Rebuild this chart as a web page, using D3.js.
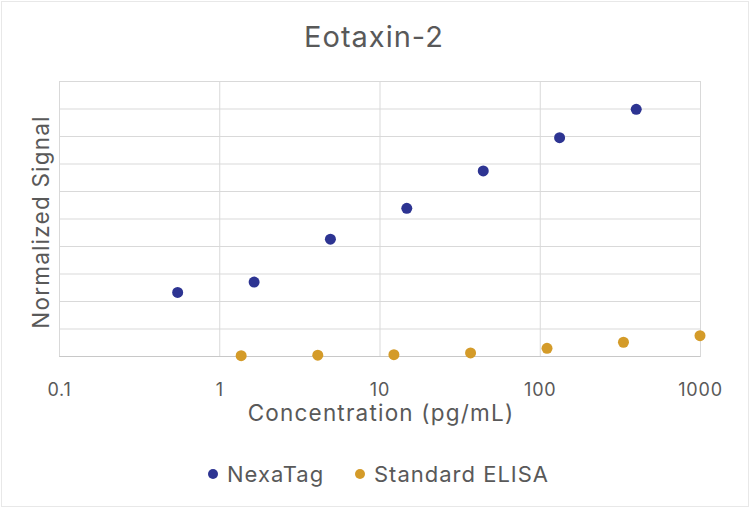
<!DOCTYPE html>
<html>
<head>
<meta charset="utf-8">
<script src="https://cdn.jsdelivr.net/npm/d3@7"></script>
<style>
  body { margin: 0; background: #fff; }
  text { font-family: Inter, "Open Sans", sans-serif; fill: #595959; }
</style>
</head>
<body>
<div id="container"></div>
<script>
// data
const xTicks = [0.1, 1, 10, 100, 1000];
const xTickLabels = ["0.1", "1", "10", "100", "1000"];
const nexaConc = [0.55, 1.65, 4.94, 14.8, 44.4, 133, 400];
const nexaSignal = [0.231, 0.269, 0.425, 0.537, 0.673, 0.794, 0.897];
const elisaConc = [1.37, 4.12, 12.3, 37, 111, 333, 1000];
const elisaSignal = [0.001, 0.003, 0.005, 0.011, 0.028, 0.05, 0.074];
const seriesNames = ["NexaTag", "Standard ELISA"];
const colors = ["#2d3492", "#d49b29"];

const width = 750, height = 508;
const margin = { top: 81, right: 50, bottom: 152, left: 59 };
const wid = width - margin.left - margin.right;
const hei = height - margin.top - margin.bottom;

const svg = d3
  .select("#container")
  .append("svg")
  .attr("width", width)
  .attr("height", height);

// faint outer frame
svg
  .append("rect")
  .attr("x", 1.5)
  .attr("y", 1.5)
  .attr("width", width - 3)
  .attr("height", height - 3)
  .attr("fill", "none")
  .attr("stroke", "#e8e8e8");

svg
  .append("text")
  .attr("x", 374)
  .attr("y", 47)
  .attr("text-anchor", "middle")
  .style("font-size", "29px")
  .style("letter-spacing", "1px")
  .text("Eotaxin-2");

const g = svg
  .append("g")
  .attr("transform", `translate(${margin.left},${margin.top})`);

const xScale = d3.scaleLog().domain([0.1, 1000]).range([0, wid]);
const yScale = d3.scaleLinear().domain([0, 1]).range([hei, 0]);

// horizontal gridlines
g.append("g")
  .call(d3.axisLeft(yScale).ticks(10).tickSize(-wid).tickFormat(""))
  .call((a) => a.select(".domain").remove())
  .selectAll("line")
  .attr("stroke", "#d9d9d9");

// vertical gridlines at decades
g.append("g")
  .attr("transform", "translate(0," + hei + ")")
  .call(
    d3
      .axisBottom(xScale)
      .tickValues(xTicks)
      .tickSize(-hei)
      .tickFormat((d, i) => xTickLabels[i])
  )
  .call((a) => {
    a.select(".domain").attr("stroke", "#c8c8c8");
    a.selectAll("line").attr("stroke", "#d9d9d9");
    a.selectAll("text")
      .attr("y", 27)
      .style("font-size", "18px")
      .style("letter-spacing", "0.8px")
      .style("fill", "#595959");
  });

const series = [
  { conc: elisaConc, signal: elisaSignal, color: colors[1] },
  { conc: nexaConc, signal: nexaSignal, color: colors[0] },
];

series.forEach((s) => {
  g.append("g")
    .selectAll("circle")
    .data(s.conc)
    .join("circle")
    .attr("cx", (d) => xScale(d))
    .attr("cy", (d, i) => yScale(s.signal[i]))
    .attr("r", 5.5)
    .attr("fill", s.color);
});

svg
  .append("text")
  .attr("x", 381)
  .attr("y", 421)
  .attr("text-anchor", "middle")
  .style("font-size", "22.5px")
  .style("letter-spacing", "1.2px")
  .text("Concentration (pg/mL)");

svg
  .append("text")
  .attr("transform", "translate(49,222) rotate(-90)")
  .attr("text-anchor", "middle")
  .style("font-size", "22.5px")
  .style("letter-spacing", "1.2px")
  .text("Normalized Signal");

// legend
const legendX = [213, 360];
const legend = svg
  .append("g")
  .selectAll("g")
  .data(seriesNames)
  .join("g")
  .attr("transform", (d, i) => `translate(${legendX[i]},474)`);

legend
  .append("circle")
  .attr("r", 5)
  .attr("fill", (d, i) => colors[i]);

legend
  .append("text")
  .attr("x", 14)
  .attr("y", 8)
  .style("font-size", "22px")
  .style("letter-spacing", "1px")
  .text((d) => d);
</script>
</body>
</html>
